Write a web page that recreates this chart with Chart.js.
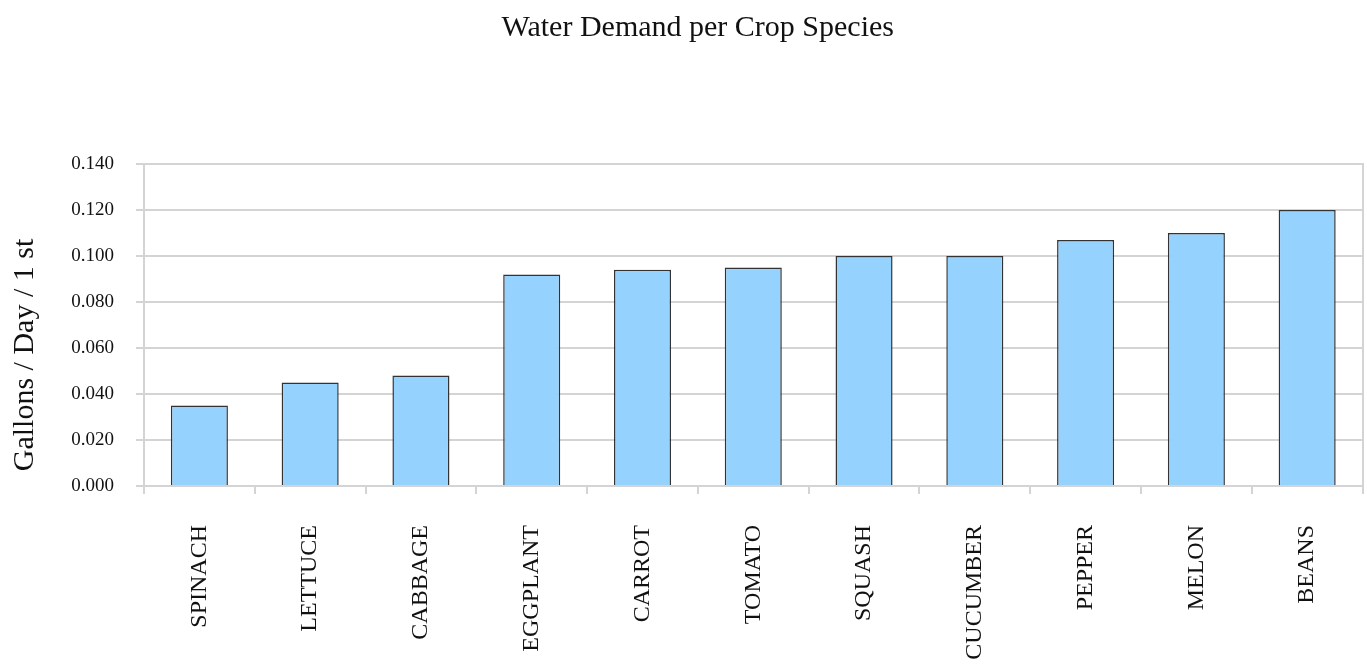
<!DOCTYPE html>
<html>
<head>
<meta charset="utf-8">
<script src="https://cdn.jsdelivr.net/npm/chart.js@4/dist/chart.umd.min.js"></script>
<style>
html,body{margin:0;padding:0;background:#fff;}
#wrap{width:1367px;height:672px;position:relative;}
</style>
</head>
<body>
<div id="wrap"><canvas id="c" width="1367" height="672"></canvas></div>
<script>
const categories = ["SPINACH","LETTUCE","CABBAGE","EGGPLANT","CARROT","TOMATO","SQUASH","CUCUMBER","PEPPER","MELON","BEANS"];
const waterDemand = [0.035, 0.045, 0.048, 0.092, 0.094, 0.095, 0.100, 0.100, 0.107, 0.110, 0.120];
const yTicks = [0.000, 0.020, 0.040, 0.060, 0.080, 0.100, 0.120, 0.140];
const chartTitle = "   Water Demand per Crop Species";
const yTitle = "Gallons / Day / 1 st        ";

const serif = "'Liberation Serif', 'Times New Roman', serif";
const gridGray = '#d4d4d4';

new Chart(document.getElementById('c'), {
  type: 'bar',
  data: {
    labels: categories,
    datasets: [{
      data: waterDemand,
      backgroundColor: '#96d2fe',
      borderColor: '#333333',
      borderWidth: 1.5,
      barPercentage: 0.515,
      categoryPercentage: 1.0
    }]
  },
  options: {
    responsive: false,
    animation: false,
    devicePixelRatio: 1,
    layout: { padding: { left: 7, right: 1, top: 0, bottom: 0 } },
    plugins: {
      legend: { display: false },
      tooltip: { enabled: false },
      title: {
        display: true,
        text: chartTitle,
        color: '#111',
        font: { family: serif, size: 30, weight: 'normal' },
        padding: { top: 10, bottom: 118 }
      }
    },
    scales: {
      x: {
        grid: { display: true, drawOnChartArea: false, drawTicks: true, tickLength: 8, color: gridGray, lineWidth: 2, offset: true },
        border: { display: true, color: gridGray, width: 2 },
        ticks: {
          color: '#111',
          font: { family: serif, size: 24 },
          maxRotation: 90, minRotation: 90,
          padding: 31,
          autoSkip: false
        },
        afterFit: (s) => { s.height = 186; }
      },
      y: {
        min: 0, max: 0.14,
        afterBuildTicks: (s) => { s.ticks = yTicks.map(v => ({ value: v })); },
        grid: { color: gridGray, lineWidth: 2, drawTicks: true, tickLength: 8 },
        border: { display: true, color: gridGray, width: 2 },
        ticks: {
          color: '#111',
          font: { family: serif, size: 19 },
          padding: 22,
          callback: (v) => Number(v).toFixed(3)
        },
        title: {
          display: true,
          text: yTitle,
          color: '#111',
          font: { family: serif, size: 30 },
          padding: { top: 0, bottom: 0 }
        },
        afterFit: (s) => { s.width = 137; }
      },
      y2: {
        position: 'right',
        display: true,
        grid: { drawOnChartArea: false, drawTicks: false },
        border: { display: true, color: gridGray, width: 2 },
        ticks: { display: false },
        afterFit: (s) => { s.width = 0; }
      }
    }
  }
});
</script>
</body>
</html>
